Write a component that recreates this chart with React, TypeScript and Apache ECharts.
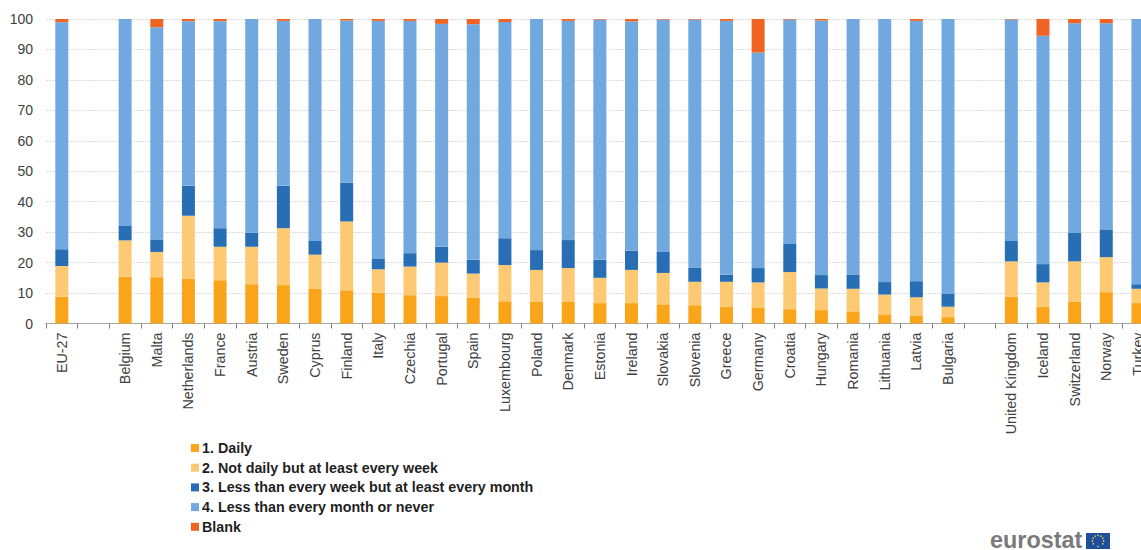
import React, { useEffect, useRef } from "react";
import * as echarts from "echarts";

const categories = [
  "EU-27", "", "Belgium", "Malta", "Netherlands", "France", "Austria", "Sweden", "Cyprus", "Finland",
  "Italy", "Czechia", "Portugal", "Spain", "Luxembourg", "Poland", "Denmark", "Estonia", "Ireland",
  "Slovakia", "Slovenia", "Greece", "Germany", "Croatia", "Hungary", "Romania", "Lithuania", "Latvia",
  "Bulgaria", " ", "United Kingdom", "Iceland", "Switzerland", "Norway", "Turkey",
];

const daily = [
  8.8, null, 15.4, 15.2, 14.7, 14.2, 12.9, 12.6, 11.5, 10.9, 10.1, 9.3, 9.0, 8.4, 7.3, 7.1, 7.1, 6.7, 6.7,
  6.3, 6.0, 5.4, 5.3, 4.7, 4.4, 4.0, 3.0, 2.6, 2.1, null, 8.8, 5.4, 7.2, 10.3, 6.7,
];
const weekly = [
  10.1, null, 11.9, 8.3, 20.7, 11.0, 12.3, 18.7, 11.1, 22.6, 7.7, 9.4, 11.0, 8.0, 11.9, 10.5, 11.1, 8.3, 10.9,
  10.3, 7.7, 8.3, 8.2, 12.2, 7.1, 7.4, 6.5, 6.0, 3.4, null, 11.6, 8.1, 13.2, 11.5, 4.7,
];
const monthly = [
  5.5, null, 4.9, 4.1, 9.8, 6.1, 4.6, 13.9, 4.5, 12.7, 3.4, 4.4, 5.2, 4.5, 8.8, 6.5, 9.2, 5.9, 6.3,
  6.9, 4.7, 2.3, 4.7, 9.2, 4.4, 4.7, 4.1, 5.3, 4.2, null, 6.7, 6.0, 9.5, 8.9, 1.5,
];
const rarely = [
  74.5, null, 67.8, 69.7, 54.1, 68.0, 70.2, 54.2, 72.9, 53.3, 78.2, 76.3, 73.2, 77.4, 71.0, 75.9, 72.0, 78.9, 75.3,
  76.3, 81.4, 83.4, 70.8, 73.7, 83.6, 83.9, 86.4, 85.5, 90.3, null, 72.7, 75.0, 68.7, 67.9, 87.1,
];
const blank = [
  1.1, null, 0, 2.7, 0.7, 0.7, 0, 0.6, 0, 0.5, 0.6, 0.6, 1.6, 1.7, 1.0, 0, 0.6, 0.2, 0.8,
  0.2, 0.2, 0.6, 11.0, 0.2, 0.5, 0, 0, 0.6, 0, null, 0.2, 5.5, 1.4, 1.4, 0,
];

const seriesDefs = [
  { name: "1. Daily", values: daily, color: "#FAA519" },
  { name: "2. Not daily but at least every week", values: weekly, color: "#FDC972" },
  { name: "3. Less than every week but at least every month", values: monthly, color: "#286EB4" },
  { name: "4. Less than every month or never", values: rarely, color: "#71A8DF" },
  { name: "Blank", values: blank, color: "#F06423" },
];

const yTicks = { min: 0, max: 100, interval: 10 };
const textFont = "'Liberation Sans', Arial, sans-serif";
const flagStarCount = 12;

// EU flag next to the wordmark: a blue field with a ring of twelve gold stars.
function flagElements() {
  const cx = 1098;
  const cy = 541;
  const stars = Array.from({ length: flagStarCount }, (_, i) => {
    const a = (i / flagStarCount) * Math.PI * 2;
    return {
      type: "circle",
      silent: true,
      shape: { cx: cx + Math.cos(a) * 5.6, cy: cy + Math.sin(a) * 5.6, r: 0.8 },
      style: { fill: "#D9CF4F" },
    };
  });
  return [
    { type: "rect", silent: true, shape: { x: 1086, y: 533, width: 24, height: 16 }, style: { fill: "#1F4E9C" } },
    ...stars,
  ];
}

export default function App() {
  const ref = useRef<HTMLDivElement>(null);

  useEffect(() => {
    document.body.style.margin = "0";
    const chart = echarts.init(ref.current!, null, { renderer: "svg" });
    chart.setOption({
      animation: false,
      backgroundColor: "#ffffff",
      grid: { left: 46, top: 19, width: 1107.75, height: 304.5, containLabel: false },
      legend: {
        orient: "vertical",
        left: 186,
        top: 435.5,
        icon: "rect",
        itemWidth: 8,
        itemHeight: 8,
        itemGap: 4.7,
        selectedMode: false,
        textStyle: { fontFamily: textFont, fontSize: 14.3, fontWeight: "bold", color: "#1f1f1f", padding: [0, 0, 0, -2], lineHeight: 15 },
        data: seriesDefs.map((s) => s.name),
      },
      xAxis: {
        type: "category",
        data: categories,
        boundaryGap: true,
        axisLine: { lineStyle: { color: "#a6a6a6", width: 1 } },
        axisTick: { show: true, interval: 0, length: 5, alignWithLabel: false, lineStyle: { color: "#808080" } },
        axisLabel: { interval: 0, rotate: 90, margin: 9, fontFamily: textFont, fontSize: 14.3, color: "#404040" },
        splitLine: { show: false },
      },
      yAxis: {
        type: "value",
        min: yTicks.min,
        max: yTicks.max,
        interval: yTicks.interval,
        axisLine: { show: false },
        axisTick: { show: false },
        axisLabel: { margin: 13, fontFamily: textFont, fontSize: 14, color: "#404040" },
        splitLine: { show: true, lineStyle: { color: "#dcdcdc", type: [2, 1], width: 1 } },
      },
      series: seriesDefs.map((s) => ({
        name: s.name,
        type: "bar",
        stack: "share",
        barWidth: 13,
        data: s.values,
        itemStyle: { color: s.color },
      })),
      graphic: [
        {
          type: "text",
          silent: true,
          style: {
            x: 990,
            y: 540,
            text: "eurostat",
            verticalAlign: "middle",
            fontFamily: textFont,
            fontSize: 23.4,
            fontWeight: "bold",
            fill: "#7a7a7a",
          },
        },
        ...flagElements(),
      ],
    });
    return () => chart.dispose();
  }, []);

  // The plot runs past the right edge of the page, so the outer box crops the wider canvas.
  return (
    <div style={{ width: 1141, height: 550, overflow: "hidden" }}>
      <div ref={ref} style={{ width: 1170, height: 550 }} />
    </div>
  );
}
